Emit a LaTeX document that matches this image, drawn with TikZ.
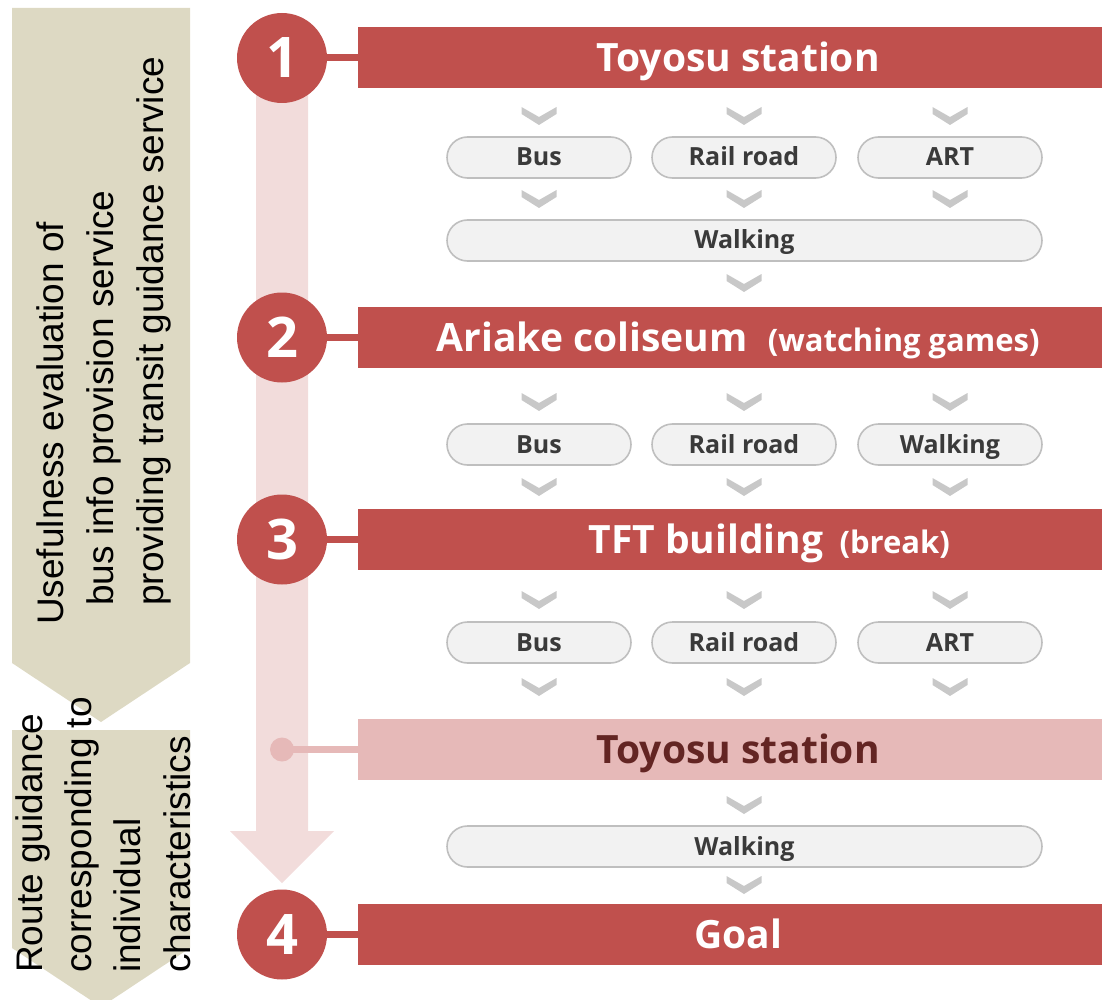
\documentclass[tikz,border=0pt]{standalone}
\usepackage{fontspec}
\setmainfont{Liberation Sans}
\newfontfamily\labelfont{Open Sans}
\newcommand\pxsize[1]{\fontsize{#1}{#1}\selectfont}

\definecolor{accent}{HTML}{C0504D}
\definecolor{pinkbar}{HTML}{E6B9B8}
\definecolor{pinktext}{HTML}{632523}
\definecolor{shaft}{HTML}{F2DCDB}
\definecolor{beige}{HTML}{DDD9C3}
\definecolor{pillfill}{HTML}{F2F2F2}
\definecolor{pillline}{HTML}{BFBFBF}
\definecolor{pilltext}{HTML}{3A3A3A}
\definecolor{chevcol}{HTML}{C8C8C8}

\tikzset{
  numdot/.style={circle, fill=accent, minimum size=90, inner sep=0, text=white,
    text height=40, text depth=0, font=\labelfont\bfseries\pxsize{56}},
  bar/.style={rectangle, fill=accent, minimum height=61, minimum width=760,
    text height=27, text depth=0,
    anchor=west, inner sep=0, text=white, font=\labelfont\bfseries\pxsize{39}},
  subtext/.style={font=\labelfont\bfseries\pxsize{31}},
  pill/.style={rectangle, rounded corners=20.5, minimum height=41, minimum width=184,
    text height=17, text depth=0,
    inner sep=0, draw=pillline, line width=1.6, fill=pillfill, text=pilltext,
    font=\labelfont\bfseries\pxsize{25}},
  widepill/.style={pill, minimum width=595},
  sidetext/.style={rotate=90, anchor=base west, inner sep=0, font=\pxsize{37}},
  link/.style={draw=accent, line width=7},
  chev/.pic={\fill[chevcol] (-17.5,-9) -- (0,1) -- (17.5,-9) -- (17.5,-2) -- (0,9) -- (-17.5,-2) -- cycle;}
}
\newcommand\smallpart[1]{{\labelfont\bfseries\pxsize{31}#1}}

\begin{document}
\begin{tikzpicture}[x=1pt,y=-1pt]
\useasboundingbox (0,0) rectangle (1102,1000);
\clip (0,0) rectangle (1102,1000);

% left-hand pentagon arrows
\fill[beige] (12,8) -- (190,8) -- (190,663) -- (101,722) -- (12,663) -- cycle;
\fill[beige] (12,730) -- (190,730) -- (190,948) -- (101,1007) -- (12,948) -- cycle;

\node[sidetext] (u1) at (63,625) {Usefulness evaluation of};
\node[sidetext] (u2) at (113,606) {bus info provision service};
\node[sidetext] (u3) at (163,606) {providing transit guidance service};

\node[sidetext] (r1) at (42,973) {Route guidance};
\node[sidetext] (r2) at (91,973) {corresponding to};
\node[sidetext] (r3) at (140,973) {individual};
\node[sidetext] (r4) at (190,973) {characteristics};

% timeline arrow
\fill[shaft] (256,60) -- (308,60) -- (308,831) -- (334,831) -- (282,883)
  -- (230,831) -- (256,831) -- cycle;

% stops
\node[numdot] (c1) at (282,58) {1};
\node[numdot] (c2) at (282,337.5) {2};
\node[numdot] (c3) at (282,539.5) {3};
\node[numdot] (c4) at (282,934.5) {4};

\node[bar] (b1) at (358,58) {Toyosu station};
\node[bar] (b2) at (358,337.5) {Ariake coliseum\hspace{20pt}\smallpart{(watching games)}};
\node[bar] (b3) at (358,539.5) {\hspace*{62pt}TFT building\hspace{16pt}\smallpart{(break)}};
\node[bar, fill=pinkbar, text=pinktext] (bp) at (358,749.5) {Toyosu station};
\node[bar] (b4) at (358,934.5) {Goal};

\draw[link] (c1.east) -- (b1.west);
\draw[link] (c2.east) -- (b2.west);
\draw[link] (c3.east) -- (b3.west);
\draw[link] (c4.east) -- (b4.west);

\coordinate (pd) at (282,749.5);
\draw[draw=pinkbar, line width=7] (pd) -- (bp.west);
\fill[pinkbar] (pd) circle (12);

% transport options, leg 1
\pic at (539,116) {chev}; \pic at (744,116) {chev}; \pic at (950,116) {chev};
\node[pill] (p11) at (539,157.5) {Bus};
\node[pill] (p12) at (744,157.5) {Rail road};
\node[pill] (p13) at (950,157.5) {ART};
\pic at (539,199) {chev}; \pic at (744,199) {chev}; \pic at (950,199) {chev};
\node[widepill] (w1) at (744.5,240.5) {Walking};
\pic at (744,283) {chev};

% leg 2
\pic at (539,402) {chev}; \pic at (744,402) {chev}; \pic at (950,402) {chev};
\node[pill] (p21) at (539,444.5) {Bus};
\node[pill] (p22) at (744,444.5) {Rail road};
\node[pill] (p23) at (950,444.5) {Walking};
\pic at (539,487) {chev}; \pic at (744,487) {chev}; \pic at (950,487) {chev};

% leg 3
\pic at (539,600) {chev}; \pic at (744,600) {chev}; \pic at (950,600) {chev};
\node[pill] (p31) at (539,642.5) {Bus};
\node[pill] (p32) at (744,642.5) {Rail road};
\node[pill] (p33) at (950,642.5) {ART};
\pic at (539,687) {chev}; \pic at (744,687) {chev}; \pic at (950,687) {chev};

% final walk
\pic at (744,805) {chev};
\node[widepill] (w2) at (744.5,846.5) {Walking};
\pic at (744,885) {chev};
\end{tikzpicture}
\end{document}
